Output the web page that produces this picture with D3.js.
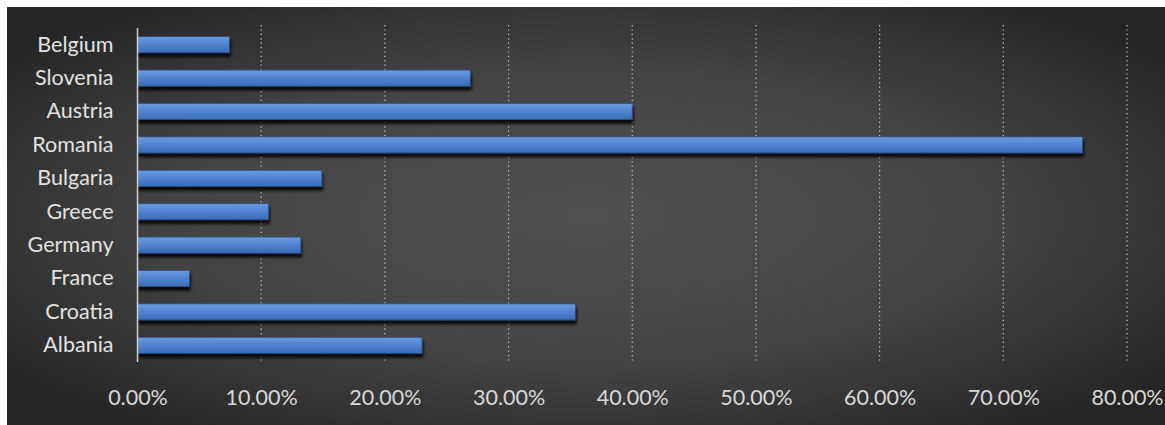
<!DOCTYPE html>
<html>
<head>
<meta charset="utf-8">
<script src="https://cdn.jsdelivr.net/npm/d3@7"></script>
<style>
  html, body { margin: 0; padding: 0; background: #ffffff; }
  svg { display: block; }
</style>
</head>
<body>
<svg id="chart" width="1165" height="425"></svg>
<script>
// Share by country, listed top to bottom
const countries = ["Belgium", "Slovenia", "Austria", "Romania", "Bulgaria", "Greece", "Germany", "France", "Croatia", "Albania"];
const shares = [7.42, 26.9, 40.0, 76.4, 14.9, 10.6, 13.2, 4.2, 35.4, 23.0];
const tickValues = [0, 10, 20, 30, 40, 50, 60, 70, 80];

const svg = d3.select("#chart");
const W = 1165, H = 425;
const margin = { left: 137.5, right: 1127, top: 28, bottom: 362 };

const defs = svg.append("defs");

// Dark background, lighter toward the middle
const bg = defs.append("radialGradient").attr("id", "bgGrad")
  .attr("cx", "50%").attr("cy", "50%").attr("r", "65%");
bg.append("stop").attr("offset", "0%").attr("stop-color", "#515151");
bg.append("stop").attr("offset", "55%").attr("stop-color", "#434343");
bg.append("stop").attr("offset", "100%").attr("stop-color", "#242424");

// Bar fill: lighter blue on top
const barGrad = defs.append("linearGradient").attr("id", "barGrad")
  .attr("x1", 0).attr("y1", 0).attr("x2", 0).attr("y2", 1);
barGrad.append("stop").attr("offset", "0%").attr("stop-color", "#6d9be0");
barGrad.append("stop").attr("offset", "50%").attr("stop-color", "#4f82cf");
barGrad.append("stop").attr("offset", "100%").attr("stop-color", "#3b6cb8");

// Soft shadow beneath each bar
const sh = defs.append("filter").attr("id", "shadow")
  .attr("x", "-5%").attr("y", "-50%").attr("width", "110%").attr("height", "220%");
sh.append("feGaussianBlur").attr("in", "SourceAlpha").attr("stdDeviation", 1.8).attr("result", "b");
sh.append("feOffset").attr("in", "b").attr("dx", 1).attr("dy", 4).attr("result", "o");
sh.append("feComponentTransfer").attr("in", "o").attr("result", "s")
  .append("feFuncA").attr("type", "linear").attr("slope", 0.85);
const m = sh.append("feMerge");
m.append("feMergeNode").attr("in", "s");
m.append("feMergeNode").attr("in", "SourceGraphic");

svg.append("rect").attr("x", 7).attr("y", 7).attr("width", W - 7).attr("height", H - 7)
  .attr("fill", "url(#bgGrad)");

const x = d3.scaleLinear().domain([0, 80]).range([margin.left, margin.right]);
const y = d3.scaleBand().domain(countries).range([margin.top, margin.bottom]).paddingInner(0.52).paddingOuter(0.26);

// Vertical dotted gridlines
svg.append("g").selectAll("line").data(tickValues.filter(d => d > 0)).join("line")
  .attr("x1", d => x(d)).attr("x2", d => x(d))
  .attr("y1", margin.top - 3).attr("y2", margin.bottom)
  .attr("stroke", "#c8c8c8").attr("stroke-width", 1.2)
  .attr("stroke-dasharray", "1.2,3.2");

// Bars
svg.append("g").selectAll("rect").data(countries).join("rect")
  .attr("x", x(0))
  .attr("y", d => y(d))
  .attr("width", (d, i) => x(shares[i]) - x(0))
  .attr("height", y.bandwidth())
  .attr("fill", "url(#barGrad)")
  .attr("stroke", "#2c4f86").attr("stroke-width", 0.8)
  .attr("filter", "url(#shadow)");

// Category axis line
svg.append("line")
  .attr("x1", x(0)).attr("x2", x(0))
  .attr("y1", margin.top).attr("y2", margin.bottom)
  .attr("stroke", "#d0d0d0").attr("stroke-width", 1.5);

// Category labels
const yAxis = d3.axisLeft(y).tickSize(0).tickPadding(24);
const gy = svg.append("g").attr("transform", `translate(${x(0)},0)`).call(yAxis);
gy.select(".domain").remove();
gy.selectAll("text")
  .attr("fill", "#e2e2e2")
  .style("font-family", "Lato, 'Open Sans', sans-serif")
  .style("font-size", "21.5px");

// Value axis labels
const xAxis = d3.axisBottom(x).tickValues(tickValues).tickSize(0).tickPadding(0)
  .tickFormat(d => d3.format(".2f")(d) + "%");
const gx = svg.append("g").attr("transform", `translate(0,${398})`).call(xAxis);
gx.select(".domain").remove();
gx.selectAll("text")
  .attr("fill", "#d8d8d8")
  .attr("dy", "0.32em")
  .style("font-family", "Lato, 'Open Sans', sans-serif")
  .style("font-size", "21.5px");
</script>
</body>
</html>
